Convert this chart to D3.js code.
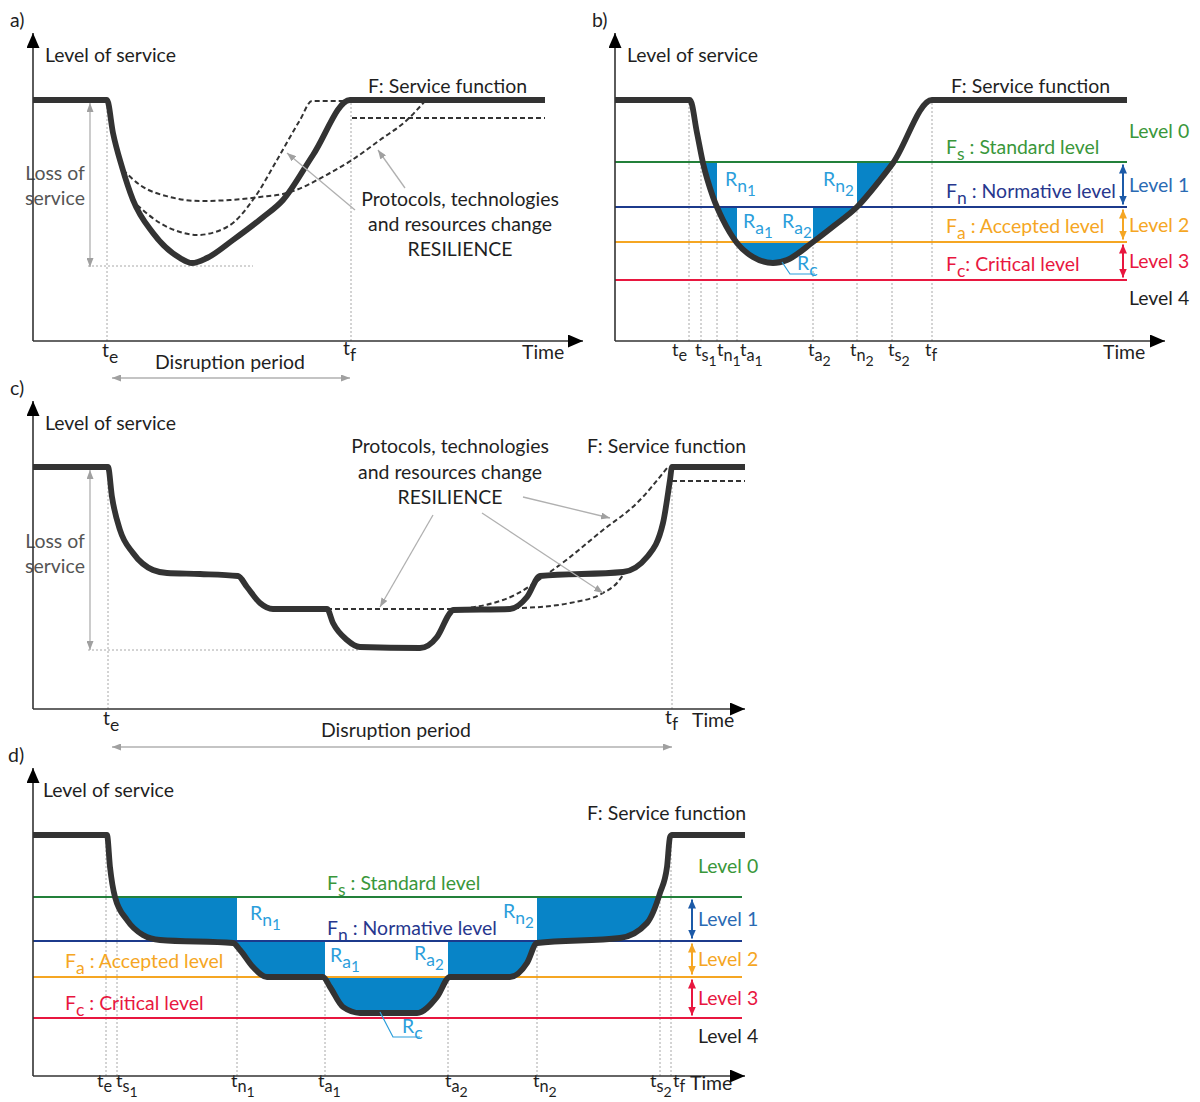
<!DOCTYPE html>
<html><head><meta charset="utf-8">
<script src="https://cdn.jsdelivr.net/npm/d3@7"></script>
<style>body{margin:0;background:#fff}svg{display:block}text{white-space:pre}</style>
</head><body><svg id="c" width="1200" height="1102"></svg>
<script>
// ================= DATA (time units, level-of-service units) =================
// Panel a
const serviceA   = [[0,48.2],[14.8,48.2],[16,41.6],[17.8,34.8],[20,28.2],[24,21.6],[29.4,16.6],[31.8,15.6],[34.8,16.6],[40,20.2],[45.8,24.6],[50,28.2],[56,37.2],[63.4,48.2],[102.4,48.2]];
const slowRecA   = [[18,34.2],[21.4,31.2],[27.4,28.8],[33.4,28],[39.4,28.2],[45.4,28.8],[50.8,29.6],[59.4,33.6],[63.8,36.2],[69.4,40.2],[74.8,44.2],[78.4,48]];
const fastRecA   = [[20.8,27.2],[25.4,23.6],[29.4,21.8],[32.8,21.2],[38.8,22.8],[44.4,28.8],[48.8,36.2],[53.4,44.2],[55.8,48],[63.4,48]];
const residualA  = [[63.8,44.6],[102.4,44.6]];
const eventsA    = [14.8,63.6];           // te, tf
const lossA      = [47.6,14.8];           // loss of service arrow (top, bottom)
const minLevelA  = 15;

// Panel b
const serviceB   = [[0,48.2],[15,48.2],[16.4,41.6],[17.6,35.6],[19.6,28.8],[21.6,24.2],[24.4,19.6],[27.6,16.8],[31.6,15.6],[34.4,16.2],[39.6,19.8],[44,23.2],[48.4,26.8],[53,32.2],[55.6,35.6],[63.4,48.2],[102.4,48.2]];
const levelsB    = [35.8,26.8,19.8,12.2]; // Fs, Fn, Fa, Fc
const ticksB     = [14.8,17.2,20.4,24.4,39.6,48.4,55.4,63.4];
const tickNames  = ["e","s1","n1","a1","a2","n2","s2","f"];
const tickTop    = ["top","Fs","Fn","Fa","Fa","Fn","Fs","top"];

// Panel c
const serviceC   = [[0,48.4],[15,48.4],[15.8,42.4],[17.4,35.8],[20,31.2],[24,27.8],[26.8,27.2],[33.4,27],[41,26.6],[42.8,24.4],[45.4,21.2],[48,20],[58.8,20],[60,17.2],[62.8,13.8],[65.4,12.4],[77.4,12.2],[80.8,14.4],[83.4,19.2],[84,19.8],[95.4,20],[98.8,22.4],[101.4,26.6],[118,27.4],[122.8,30.4],[126,37.2],[127.4,45.8],[127.8,48.4],[142.4,48.4]];
const fastRecC   = [[58.8,20],[67.4,20],[83.4,20],[94,21.8],[104.8,28.4],[114,35.8],[120.8,41.2],[126.8,48.2]];
const slowRecC   = [[83.4,20],[97.4,20.2],[107.4,21.2],[114,23.2],[116.8,25.2],[118.4,27.4]];
const residualC  = [[127.8,45.6],[142.4,45.6]];
const eventsC    = [15,127.8];
const lossC      = [47.8,11.8];
const minLevelC  = 11.8;

// Panel d
const serviceD   = [[0,48.2],[14.8,48.2],[15.4,41.8],[16.4,35.8],[18.8,31.2],[22,28.2],[25.4,27.2],[40,26.6],[41.4,25.2],[44,21.8],[46.8,19.8],[58,19.8],[59.4,17.8],[62,13.8],[65.4,12.6],[76.8,12.6],[80.8,15.8],[83.4,19.8],[95.4,19.8],[98.8,22.6],[100.8,26.6],[117.4,27.6],[122.8,30.6],[125.4,36.6],[126.8,41.8],[127.4,47.8],[127.8,48.2],[142.4,48.2]];
const levelsD    = [35.8,27,19.8,11.6];
const ticksD     = [14.6,16.8,40.8,58.4,83,100.8,125.4,127.6];

const levelLetters = ["s","n","a","c"];
const levelTexts   = ["Standard level","Normative level","Accepted level","Critical level"];
const levelBands   = ["Level 0","Level 1","Level 2","Level 3","Level 4"];

// ================= DRAWING =================
const svg = d3.select("#c");
const FONT = "Lato, 'Open Sans', sans-serif";
svg.style("font-family", FONT);
const probe = svg.append("text").attr("font-size",100).text("Level of service");
let base = 100*131/probe.node().getComputedTextLength();
if(!isFinite(base)) base = 18;
base = Math.max(15, Math.min(21, base));
probe.remove();
const tickSize = base*0.93;

const C = {
  curve:"#333333", axis:"#333", dot:"#a8a8a8", txt:"#1f1f1f",
  sLine:"#23803a", sTxt:"#3a973a",
  nLine:"#1c3a8c", nTxt:"#27378e", nBand:"#2a6ab3", nArr:"#1c5aa8",
  aLine:"#f5a623", aTxt:"#f5a623",
  cLine:"#e8173f", cTxt:"#e8173f",
  fill:"#0884c7", R:"#2b9edb"
};
const lineCols = [C.sLine,C.nLine,C.aLine,C.cLine];
const txtCols  = [C.sTxt,C.nTxt,C.aTxt,C.cTxt];
const bandCols = [C.sTxt,C.nBand,C.aTxt,C.cTxt,"#1f1f1f"];
const arrCols  = [C.nArr,C.aLine,C.cLine];

const defs = svg.append("defs");
function marker(id,color,w,h){
  defs.append("marker").attr("id",id).attr("viewBox",`0 0 ${w} ${h}`)
    .attr("refX",w).attr("refY",h/2).attr("markerWidth",w).attr("markerHeight",h)
    .attr("markerUnits","userSpaceOnUse").attr("orient","auto-start-reverse")
    .append("path").attr("d",`M0,0L${w},${h/2}L0,${h}Z`).attr("fill",color);
}
marker("axisHead","#000",15,13);
marker("grayHead","#a0a0a0",9,7);
arrCols.forEach((c,i)=>marker("lv"+i,c,9,8));

function rich(g,px,py,parts,opt={}){
  const fs = opt.size||base;
  const t = g.append("text").attr("x",px).attr("y",py).attr("fill",opt.color||C.txt)
    .attr("font-size",fs).attr("text-anchor",opt.anchor||"start");
  const off=[0,fs*0.3,fs*0.54], sz=[1,0.9,0.78];
  let prev=0;
  parts.forEach(([s,l])=>{ t.append("tspan").attr("dy",off[l]-off[prev]).attr("font-size",fs*sz[l]).text(s); prev=l; });
  return t;
}
function tParts(name, letter){
  const p=[[letter,0],[name[0],1]];
  if(name.length>1) p.push([name.slice(1),2]);
  return p;
}

function makePanel(X0,Y0,tMax){
  const x=d3.scaleLinear().domain([0,tMax]).range([X0,X0+tMax*5]);
  const y=d3.scaleLinear().domain([0,61.6]).range([Y0,Y0-308]);
  const g=svg.append("g");
  return {x,y,g,tMax};
}
function axes(P){
  const {x,y,g,tMax}=P;
  g.append("line").attr("x1",x(0)).attr("y1",y(0)).attr("x2",x(tMax)).attr("y2",y(0))
    .attr("stroke",C.axis).attr("stroke-width",1.6).attr("marker-end","url(#axisHead)");
  g.append("line").attr("x1",x(0)).attr("y1",y(0)).attr("x2",x(0)).attr("y2",y(61.6))
    .attr("stroke",C.axis).attr("stroke-width",1.6).attr("marker-end","url(#axisHead)");
}
function lineGen(P){ return d3.line().x(d=>P.x(d[0])).y(d=>P.y(d[1])).curve(d3.curveMonotoneX); }
function solid(P,data){
  P.g.append("path").attr("d",lineGen(P)(data)).attr("fill","none").attr("stroke",C.curve)
    .attr("stroke-width",5.8).attr("stroke-linejoin","round");
}
function dashed(P,data){
  P.g.append("path").attr("d",lineGen(P)(data)).attr("fill","none").attr("stroke",C.curve)
    .attr("stroke-width",2).attr("stroke-dasharray","5,3");
}
function vdot(P,t,top){
  P.g.append("line").attr("x1",P.x(t)).attr("x2",P.x(t)).attr("y1",P.y(0)).attr("y2",P.y(top))
    .attr("stroke",C.dot).attr("stroke-width",1).attr("stroke-dasharray","2,2");
}
function grayArrow(P,a,b,both){
  const l=P.g.append("line").attr("x1",P.x(a[0])).attr("y1",P.y(a[1])).attr("x2",P.x(b[0])).attr("y2",P.y(b[1]))
    .attr("stroke","#b0b0b0").attr("stroke-width",1.3).attr("marker-end","url(#grayHead)");
  if(both) l.attr("marker-start","url(#grayHead)");
}
function lossOfService(P,xPos,loss,minLevel,xEnd,textX,textY){
  grayArrow(P,[xPos,loss[1]],[xPos,loss[0]],true);
  P.g.append("line").attr("x1",P.x(xPos-0.4)).attr("x2",P.x(xEnd)).attr("y1",P.y(minLevel)).attr("y2",P.y(minLevel))
    .attr("stroke",C.dot).attr("stroke-width",1).attr("stroke-dasharray","2,2");
  [["Loss of",0],["service",1]].forEach(([s,i])=>
    P.g.append("text").attr("x",textX).attr("y",textY+i*25).attr("text-anchor","middle")
      .attr("font-size",base).attr("fill","#555").text(s));
}
function multiline(g,cx,y0,lines,dy){
  lines.forEach((s,i)=>g.append("text").attr("x",cx).attr("y",y0+i*dy).attr("text-anchor","middle")
    .attr("font-size",base).attr("fill",C.txt).text(s));
}
function plain(g,px,py,s,opt={}){
  return g.append("text").attr("x",px).attr("y",py).attr("font-size",opt.size||base)
    .attr("fill",opt.color||C.txt).attr("text-anchor",opt.anchor||"start").text(s);
}

function levelPanel(P,service,levels,ticks,lineEnd,clipId,opts){
  const {x,y,g}=P;
  const top=service[0][1];
  const lvOf = n => n==="top"?top:levels[["Fs","Fn","Fa","Fc"].indexOf(n)];
  ticks.forEach((t,i)=>vdot(P,t,lvOf(tickTop[i])));
  defs.append("clipPath").attr("id",clipId).append("rect")
    .attr("x",x(0)).attr("y",y(levels[0])).attr("width",x(P.tMax)-x(0)).attr("height",y(0)-y(levels[0]));
  const area=d3.area().x(d=>x(d[0])).y0(y(levels[0])).y1(d=>y(d[1])).curve(d3.curveMonotoneX);
  g.append("path").attr("d",area(service)).attr("fill",C.fill).attr("clip-path",`url(#${clipId})`);
  g.append("rect").attr("x",x(ticks[2])).attr("width",x(ticks[5])-x(ticks[2]))
    .attr("y",y(levels[0])).attr("height",y(levels[1])-y(levels[0])).attr("fill","#fff");
  g.append("rect").attr("x",x(ticks[3])).attr("width",x(ticks[4])-x(ticks[3]))
    .attr("y",y(levels[1])).attr("height",y(levels[2])-y(levels[1])).attr("fill","#fff");
  levels.forEach((L,i)=>g.append("line").attr("x1",x(0)).attr("x2",x(lineEnd)).attr("y1",y(L)).attr("y2",y(L))
    .attr("stroke",lineCols[i]).attr("stroke-width",2));
  for(let i=0;i<3;i++){
    g.append("line").attr("x1",x(opts.arrowT)).attr("x2",x(opts.arrowT))
      .attr("y1",y(levels[i])+2.5).attr("y2",y(levels[i+1])-2.5)
      .attr("stroke",arrCols[i]).attr("stroke-width",2)
      .attr("marker-start",`url(#lv${i})`).attr("marker-end",`url(#lv${i})`);
  }
  const bx=x(opts.bandT);
  plain(g,bx,y(levels[0])-24,levelBands[0],{color:bandCols[0]});
  for(let i=0;i<3;i++) plain(g,bx,(y(levels[i])+y(levels[i+1]))/2+7,levelBands[i+1],{color:bandCols[i+1]});
  plain(g,bx,y(levels[3])+25,levelBands[4],{color:bandCols[4]});
  levels.forEach((L,i)=>rich(g,x(opts.nameT[i]),y(L)-opts.nameDy[i],
    [["F",0],[levelLetters[i],1],[(opts.colonSpace[i]?" : ":": ")+levelTexts[i],0]],{color:txtCols[i]}));
  solid(P,service);
  ticks.forEach((t,i)=>rich(g,x(t)+opts.nudge[i],y(0)+opts.tickDy,tParts(tickNames[i],"t"),{size:tickSize}));
  const R=(pos,l,n)=>rich(g,x(pos[0]),y(pos[1]),[["R",0],[l,1],[n,2]],{color:C.R});
  R(opts.Rn1,"n","1"); R(opts.Rn2,"n","2"); R(opts.Ra1,"a","1"); R(opts.Ra2,"a","2");
  rich(g,x(opts.Rc[0]),y(opts.Rc[1]),[["R",0],["c",1]],{color:C.R});
  g.append("path").attr("d",d3.line().x(d=>x(d[0])).y(d=>y(d[1]))(opts.RcLeader))
    .attr("fill","none").attr("stroke",C.R).attr("stroke-width",1.2);
}

// ===== Panel a =====
{
  const P=makePanel(33,341,110);
  plain(svg,10,27,"a)");
  eventsA.forEach(t=>vdot(P,t,48.2));
  lossOfService(P,11.4,lossA,minLevelA,44,55,180);
  dashed(P,slowRecA); dashed(P,fastRecA); dashed(P,residualA);
  solid(P,serviceA);
  axes(P);
  grayArrow(P,[64.4,26.2],[50.8,37.6]);
  grayArrow(P,[74.4,30.6],[69,38.2]);
  plain(P.g,45,62,"Level of service");
  plain(P.g,368,93,"F: Service function");
  multiline(P.g,460,206,["Protocols, technologies","and resources change","RESILIENCE"],25);
  rich(P.g,P.x(eventsA[0])-5,357,[["t",0],["e",1]]);
  rich(P.g,P.x(eventsA[1])-8,355,[["t",0],["f",1]]);
  plain(P.g,230,369,"Disruption period",{anchor:"middle"});
  grayArrow(P,[15.8,-7.4],[63.4,-7.4],true);
  plain(P.g,522,359,"Time");
}
// ===== Panel b =====
{
  const P=makePanel(615,341,110);
  plain(svg,592,27,"b)");
  levelPanel(P,serviceB,levelsB,ticksB,102.4,"clipB",{
    arrowT:101.6, bandT:102.8, nameT:[66.2,66.2,66.2,66.2], nameDy:[8,9,9,9], colonSpace:[1,1,1,0],
    nudge:[-17,-6,0,3,-5,-7,-4,-7], tickDy:15,
    Rn1:[22,31], Rn2:[41.6,31], Ra1:[25.6,22.6], Ra2:[33.4,22.6], Rc:[36.4,14.2],
    RcLeader:[[33.4,15.8],[35,13.4],[40,13.4]]
  });
  axes(P);
  plain(P.g,627,62,"Level of service");
  plain(P.g,951,93,"F: Service function");
  plain(P.g,1103,359,"Time");
}
// ===== Panel c =====
{
  const P=makePanel(33,709,142.4);
  plain(svg,10,395,"c)");
  eventsC.forEach(t=>vdot(P,t,48.4));
  lossOfService(P,11.4,lossC,minLevelC,65.4,55,548);
  dashed(P,fastRecC); dashed(P,slowRecC); dashed(P,residualC);
  solid(P,serviceC);
  axes(P);
  grayArrow(P,[80,38.8],[69.4,20.4]);
  grayArrow(P,[89.8,39.2],[114,23.2]);
  grayArrow(P,[98,42.4],[115.4,38.2]);
  plain(P.g,45,430,"Level of service");
  plain(P.g,587,453,"F: Service function");
  multiline(P.g,450,453,["Protocols, technologies","and resources change","RESILIENCE"],25.5);
  rich(P.g,P.x(eventsC[0])-5,725,[["t",0],["e",1]]);
  rich(P.g,P.x(eventsC[1])-7,724,[["t",0],["f",1]]);
  plain(P.g,396,737,"Disruption period",{anchor:"middle"});
  grayArrow(P,[15.8,-7.6],[127.8,-7.6],true);
  plain(P.g,692,727,"Time");
}
// ===== Panel d =====
{
  const P=makePanel(33,1076,142.4);
  plain(svg,8,762,"d)");
  levelPanel(P,serviceD,levelsD,ticksD,141.8,"clipD",{
    arrowT:131.8, bandT:133, nameT:[58.8,58.8,6.4,6.4], nameDy:[7,6,9,8], colonSpace:[1,1,1,1],
    nudge:[-9,-1,-6,-7,-3,-4,-10,2], tickDy:11,
    Rn1:[43.4,31.2], Rn2:[94,31.6], Ra1:[59.4,22.8], Ra2:[76.2,23.2], Rc:[73.8,8.6],
    RcLeader:[[69.4,12.8],[72,7.8],[77.4,7.8]]
  });
  axes(P);
  plain(P.g,43,797,"Level of service");
  plain(P.g,587,820,"F: Service function");
  plain(P.g,690,1090,"Time");
}
</script></body></html>
